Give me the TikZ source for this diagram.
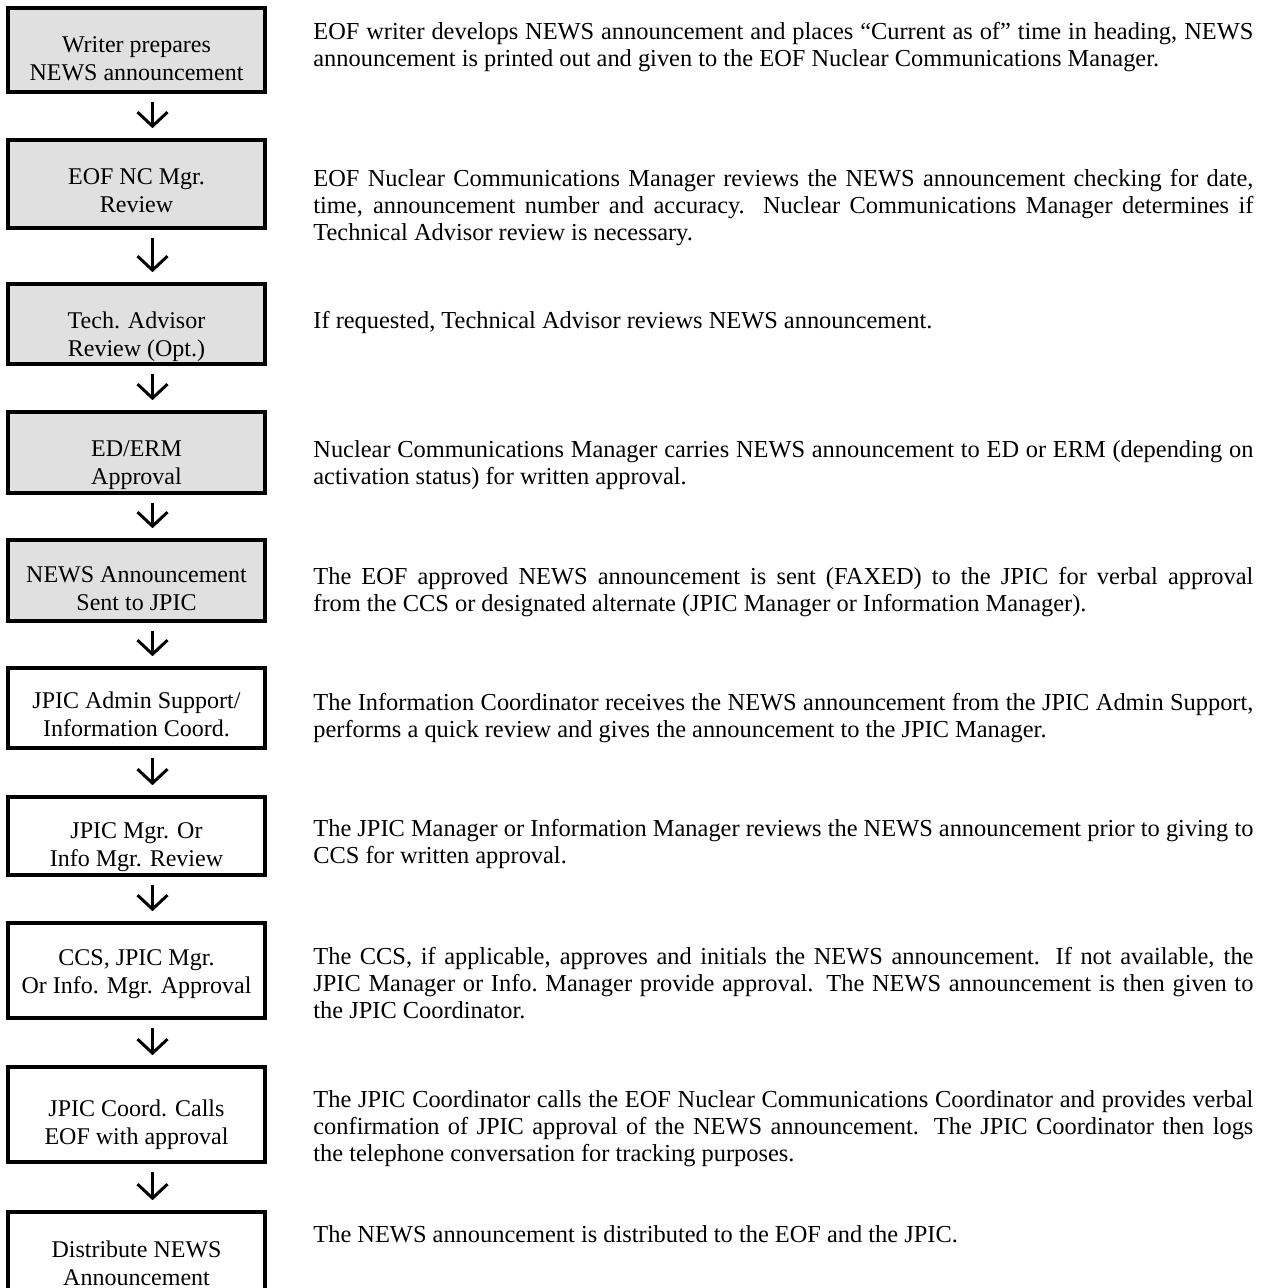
\documentclass[tikz,border=0pt]{standalone}
\usepackage{fontspec}
\setmainfont{Liberation Serif}
\usetikzlibrary{arrows.meta}
\usetikzlibrary{positioning}

% box text sits a little low in its frame
\newcommand{\steptext}[2][5pt]{\raisebox{-#1}[\height][\depth]{\begin{tabular}{@{}c@{}}#2\end{tabular}}}

\begin{document}
\begin{tikzpicture}[x=0.5pt,y=-0.5pt,
  stepbox/.style={draw, line width=1.8pt, minimum width=128.5pt, inner sep=2pt, font=\fontsize{12}{14}\selectfont},
  greybox/.style={stepbox, fill=black!12},
  note/.style={anchor=north west, inner sep=0pt, text width=470pt, align=justify, font=\fontsize{12.2}{13.5}\selectfont},
  down/.style={line width=1.5pt, -{Straight Barb[length=7pt,width=15pt]}, shorten <=4pt, shorten >=5pt}]

\useasboundingbox (0,0) rectangle (1267,1288);

% the steps
\node[greybox, minimum height=42pt] (b1) at (136.5,50) {\steptext[5.5pt]{Writer prepares\\NEWS announcement}};
\node[greybox, minimum height=44pt] (b2) at (136.5,184) {\steptext[4.5pt]{EOF NC Mgr.\\Review}};
\node[greybox, minimum height=40pt] (b3) at (136.5,324) {\steptext[6.5pt]{Tech. Advisor\\Review (Opt.)}};
\node[greybox, minimum height=40.5pt] (b4) at (136.5,452.5) {\steptext[6pt]{ED/ERM\\Approval}};
\node[greybox, minimum height=40.5pt] (b5) at (136.5,580.5) {\steptext{NEWS Announcement\\Sent to JPIC}};
\node[stepbox, minimum height=40pt] (b6) at (136.5,708) {\steptext[4.5pt]{JPIC Admin Support/\\Information Coord.}};
\node[stepbox, minimum height=39pt] (b7) at (136.5,836) {\steptext[5.5pt]{JPIC Mgr. Or\\Info Mgr. Review}};
\node[stepbox, minimum height=47.5pt] (b8) at (136.5,970.5) {\steptext[1.5pt]{CCS, JPIC Mgr.\\Or Info. Mgr. Approval}};
\node[stepbox, minimum height=47.5pt] (b9) at (136.5,1114.5) {\steptext{JPIC Coord. Calls\\EOF with approval}};
\node[stepbox, minimum height=47.5pt] (b10) at (136.5,1259.5) {\steptext[3pt]{Distribute NEWS\\Announcement}};

\foreach \i/\j in {b1/b2,b2/b3,b3/b4,b4/b5,b5/b6,b6/b7,b7/b8,b8/b9,b9/b10}
  \draw[down] ([xshift=8pt]\i.south) -- ([xshift=8pt]\j.north);

% the notes
\node[note] (n1) at (313,22) {EOF writer develops NEWS announcement and places “Current as of” time in heading, NEWS\linebreak announcement is printed out and given to the EOF Nuclear Communications Manager.};
\node[note] (n2) at (313,169) {EOF Nuclear Communications Manager reviews the NEWS announcement checking for date,\linebreak time, announcement number and accuracy.  Nuclear Communications Manager determines if\linebreak Technical Advisor review is necessary.};
\node[note] (n3) at (313,311) {If requested, Technical Advisor reviews NEWS announcement.};
\node[note] (n4) at (313,440) {Nuclear Communications Manager carries NEWS announcement to ED or ERM (depending on\linebreak activation status) for written approval.};
\node[note] (n5) at (313,567) {The EOF approved NEWS announcement is sent (FAXED) to the JPIC for verbal approval\linebreak from the CCS or designated alternate (JPIC Manager or Information Manager).};
\node[note] (n6) at (313,693) {The Information Coordinator receives the NEWS announcement from the JPIC Admin Support,\linebreak performs a quick review and gives the announcement to the JPIC Manager.};
\node[note] (n7) at (313,819) {The JPIC Manager or Information Manager reviews the NEWS announcement prior to giving to\linebreak CCS for written approval.};
\node[note] (n8) at (313,947) {The CCS, if applicable, approves and initials the NEWS announcement.  If not available, the\linebreak JPIC Manager or Info.\ Manager provide approval.  The NEWS announcement is then given to\linebreak the JPIC Coordinator.};
\node[note] (n9) at (313,1090) {The JPIC Coordinator calls the EOF Nuclear Communications Coordinator and provides verbal\linebreak confirmation of JPIC approval of the NEWS announcement.  The JPIC Coordinator then logs\linebreak the telephone conversation for tracking purposes.};
\node[note] (n10) at (313,1225) {The NEWS announcement is distributed to the EOF and the JPIC.};

\end{tikzpicture}
\end{document}
